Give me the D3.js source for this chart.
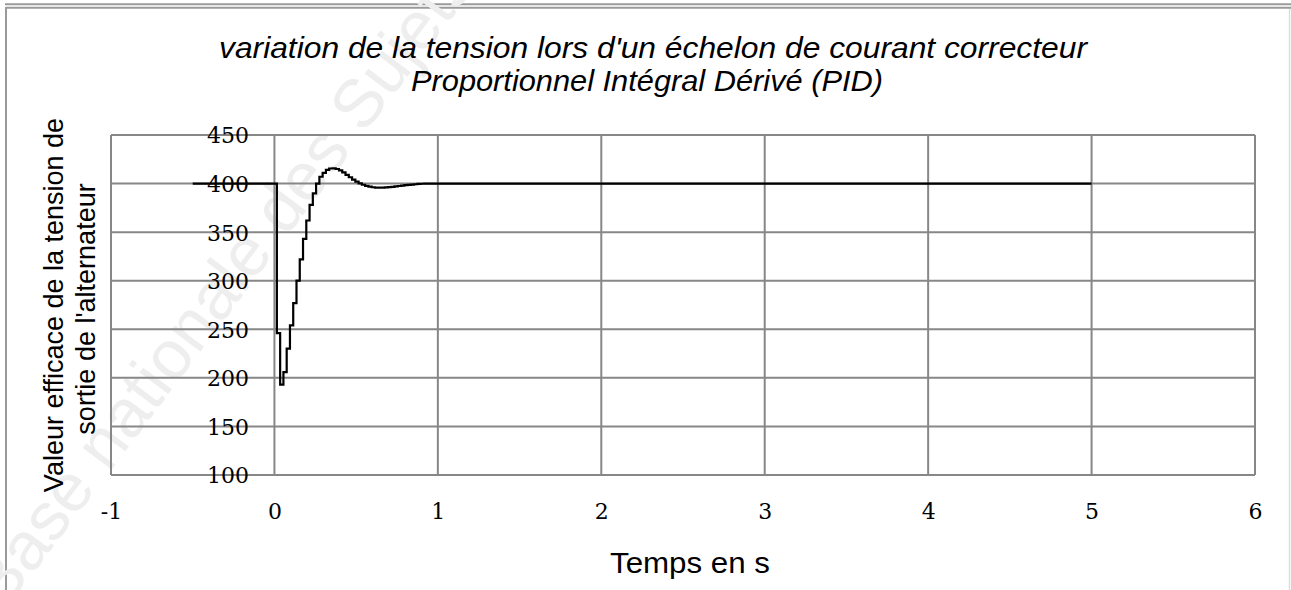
<!DOCTYPE html>
<html>
<head>
<meta charset="utf-8">
<script src="https://cdn.jsdelivr.net/npm/d3@7/dist/d3.min.js"></script>
<style>
  html, body { margin: 0; padding: 0; background: #fff; }
  svg { display: block; }
</style>
</head>
<body>
<svg id="chart" width="1291" height="590"></svg>
<script>
// ---- Data ----
const titleLines = ["variation de la tension lors d'un échelon de courant correcteur",
                    "Proportionnel Intégral Dérivé (PID)"];
const yTitleLines = ["Valeur efficace de la tension de", "sortie de l'alternateur"];
const xTitle = "Temps en s";
const watermark = "Base nationale des Sujets";
const xTicks = [-1, 0, 1, 2, 3, 4, 5, 6];
const yTicks = [100, 150, 200, 250, 300, 350, 400, 450];

const timeS = [-0.5, 0.015, 0.035, 0.055, 0.075, 0.095, 0.115, 0.135, 0.155, 0.175,
  0.195, 0.215, 0.235, 0.255, 0.275, 0.295, 0.315, 0.335, 0.355, 0.375,
  0.395, 0.415, 0.435, 0.455, 0.475, 0.495, 0.515, 0.535, 0.555, 0.575,
  0.595, 0.615, 0.635, 0.655, 0.675, 0.695, 0.715, 0.735, 0.755, 0.775,
  0.795, 0.815, 0.835, 0.855, 0.875, 0.895, 0.915, 5.0];
const tensionV = [400, 246, 193, 206, 230, 254, 277, 300, 322, 343,
  362, 378, 390, 400, 407, 411, 414, 415.5, 415.7, 415,
  413.5, 411.5, 409, 406.5, 404, 402, 400.3, 398.8, 397.7, 396.8,
  396.2, 395.9, 395.8, 395.8, 396, 396.3, 396.7, 397.1, 397.5, 397.9,
  398.3, 398.7, 399.0, 399.3, 399.6, 399.8, 400, 400];

// ---- Layout ----
const svg = d3.select("#chart");
const W = 1291, H = 590;
const plot = { left: 111, right: 1255, top: 135, bottom: 475 };
const x = d3.scaleLinear().domain([-1, 6]).range([plot.left, plot.right]);
const y = d3.scaleLinear().domain([100, 450]).range([plot.bottom, plot.top]);
const gridColor = "#878787";

// page frame lines
const frame = svg.append("g").attr("stroke", "#9a9a9a").attr("stroke-width", 2).attr("fill", "none");
frame.append("line").attr("x1", 5).attr("x2", W).attr("y1", 4.3).attr("y2", 4.3);
frame.append("line").attr("x1", 6).attr("x2", W).attr("y1", 7.7).attr("y2", 7.7);
frame.append("line").attr("x1", 6).attr("x2", 6).attr("y1", 7).attr("y2", H);
svg.append("line").attr("x1", 1289.5).attr("x2", 1289.5).attr("y1", 9).attr("y2", H)
  .attr("stroke", "#dddddd").attr("stroke-width", 1.5);

// watermark (faint, partly outside the page as in the original)
svg.append("text")
  .attr("transform", "translate(4,612) rotate(-53)")
  .attr("font-family", "Liberation Sans, Arial, sans-serif")
  .attr("font-size", 68)
  .attr("fill", "#eeeeee")
  .text(watermark);

// gridlines
const grid = svg.append("g");
grid.selectAll("line.h").data(yTicks).join("line")
  .attr("class", "h")
  .attr("x1", plot.left).attr("x2", plot.right)
  .attr("y1", d => y(d)).attr("y2", d => y(d))
  .attr("stroke", gridColor).attr("stroke-width", 2);
grid.selectAll("line.v").data(xTicks).join("line")
  .attr("class", "v")
  .attr("y1", plot.top).attr("y2", plot.bottom)
  .attr("x1", d => x(d)).attr("x2", d => x(d))
  .attr("stroke", gridColor).attr("stroke-width", 2);

// y axis labels (placed near x = -0.16 like the original)
const yAxis = d3.axisLeft(y).tickValues(yTicks).tickSize(0).tickPadding(0).tickFormat(d => String(d));
const gy = svg.append("g").attr("transform", "translate(249,0)").call(yAxis);
gy.select(".domain").remove();
gy.selectAll("text")
  .attr("font-family", "DejaVu Serif, Cambria, serif")
  .attr("font-size", 22)
  .attr("fill", "#000")
  .attr("dy", "0.36em");

// x axis labels
const xAxis = d3.axisBottom(x).tickValues(xTicks).tickSize(0).tickPadding(0).tickFormat(d => String(d));
const gx = svg.append("g").attr("transform", `translate(0,${plot.bottom})`).call(xAxis);
gx.select(".domain").remove();
gx.selectAll("text")
  .attr("font-family", "DejaVu Serif, Cambria, serif")
  .attr("font-size", 22)
  .attr("fill", "#000")
  .attr("dy", null)
  .attr("y", 44);

// data line
const line = d3.line()
  .x((d, i) => x(timeS[i]))
  .y(d => y(d))
  .curve(d3.curveStepAfter);
svg.append("path")
  .datum(tensionV)
  .attr("d", line)
  .attr("fill", "none")
  .attr("stroke", "#000")
  .attr("stroke-width", 2.2);

// title
const title = svg.append("g")
  .attr("font-family", "Liberation Sans, Arial, sans-serif")
  .attr("font-style", "italic")
  .attr("font-size", 30)
  .attr("fill", "#000")
  .attr("text-anchor", "middle");
title.append("text").attr("x", 653).attr("y", 57.5)
  .attr("textLength", 868).attr("lengthAdjust", "spacingAndGlyphs").text(titleLines[0]);
title.append("text").attr("x", 647).attr("y", 91)
  .attr("textLength", 472).attr("lengthAdjust", "spacingAndGlyphs").text(titleLines[1]);

// y title
const yt = svg.append("g")
  .attr("font-family", "Liberation Sans, Arial, sans-serif")
  .attr("font-size", 27)
  .attr("fill", "#000")
  .attr("text-anchor", "middle");
yt.append("text").attr("transform", "translate(63,305) rotate(-90)").text(yTitleLines[0]);
yt.append("text").attr("transform", "translate(95,309) rotate(-90)").text(yTitleLines[1]);

// x title
svg.append("text")
  .attr("x", 690).attr("y", 573)
  .attr("font-family", "Liberation Sans, Arial, sans-serif")
  .attr("font-size", 29)
  .attr("fill", "#000")
  .attr("text-anchor", "middle")
  .attr("textLength", 160).attr("lengthAdjust", "spacingAndGlyphs")
  .text(xTitle);
</script>
</body>
</html>
